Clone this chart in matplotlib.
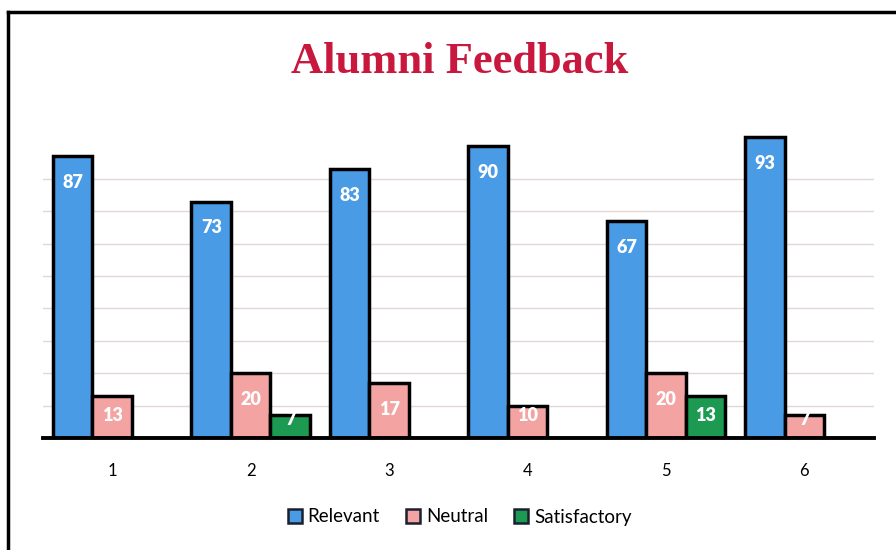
import numpy as np
import matplotlib.pyplot as plt
from matplotlib.lines import Line2D

# data
groups = ["1", "2", "3", "4", "5", "6"]
relevant = [87, 73, 83, 90, 67, 93]
neutral = [13, 20, 17, 10, 20, 7]
satisfactory = [0, 7, 0, 0, 13, 0]
series_names = ["Relevant", "Neutral", "Satisfactory"]
colors = ["#4a9be6", "#f4a3a3", "#1c9a52"]

fig = plt.figure(figsize=(8.96, 5.5), dpi=100)
ax = fig.add_axes([0.048, 0.2036, 0.927, 0.589])

x = np.arange(1, len(groups) + 1)
w = 0.285
series = [relevant, neutral, satisfactory]

for i, (vals, c) in enumerate(zip(series, colors)):
    pos = x + (i - 1) * w
    for p, v in zip(pos, vals):
        if v == 0:
            continue
        ax.bar(p, v, width=w, color=c, edgecolor="black", linewidth=2.5, zorder=3)
        # label inside the end of the bar
        if v > 15:
            off = -19
        elif v > 10:
            off = -14
        elif v == 10:
            off = -7
        else:
            off = -3
        ax.annotate(str(v), (p, v), xytext=(0, off), textcoords="offset points",
                    ha="center", va="center", color="white", fontsize=13,
                    fontweight="heavy", family="Lato", zorder=4)

ax.set_xlim(0.5, 6.5)
ax.set_ylim(0, 100)
ax.set_yticks(np.arange(10, 90, 10))
ax.yaxis.grid(True, color="#e2d6d6", linewidth=1)
ax.set_axisbelow(True)
ax.tick_params(axis="y", left=False, labelleft=False)
ax.set_xticks(x)
ax.set_xticklabels(groups, fontsize=12, family="Lato")
ax.tick_params(axis="x", length=0, pad=18)
for s in ["top", "right", "left"]:
    ax.spines[s].set_visible(False)
ax.spines["bottom"].set_linewidth(2.8)
ax.spines["bottom"].set_zorder(5)

fig.text(0.513, 0.888, "Alumni Feedback", ha="center", va="center",
         fontsize=32, fontweight="bold", family="Liberation Serif", color="#c8183e")

handles = [plt.Rectangle((0, 0), 1, 1, facecolor=c, edgecolor="#1a2030", linewidth=1.8)
           for c in colors]
fig.legend(handles, series_names, loc="center", bbox_to_anchor=(0.513, 0.06),
           ncol=3, frameon=False, handlelength=0.75, handleheight=0.75,
           handletextpad=0.3, columnspacing=1.4, prop={"family": "Lato", "size": 13.5})

# border of the framed picture
fig.add_artist(Line2D([0.009, 0.009], [0.0, 0.978], color="black", linewidth=2.5))
fig.add_artist(Line2D([0.009, 1.0], [0.978, 0.978], color="black", linewidth=2.5))

fig.savefig("out.png", dpi=100, facecolor="white")
